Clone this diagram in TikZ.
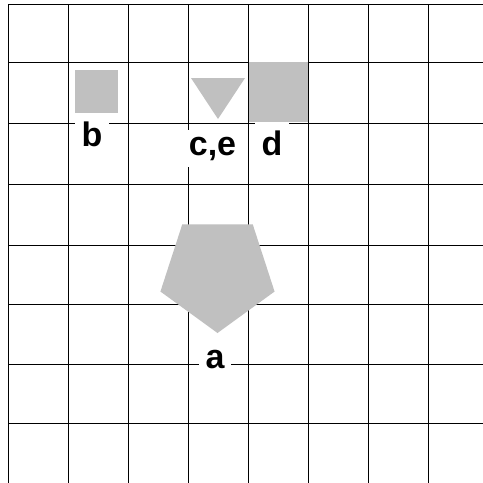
\documentclass[tikz,border=0pt]{standalone}
\usepackage{fontspec}
\setmainfont{Liberation Sans}
\usetikzlibrary{shapes.geometric}
\tikzset{
  gridline/.style={black, line width=0.9pt},
  shapefill/.style={fill=shapegray, draw=none},
  lbl/.style={fill=white, inner sep=7pt, anchor=base, font=\fontsize{34}{38}\selectfont\bfseries}
}
\definecolor{shapegray}{RGB}{192,192,192}
\begin{document}
\begin{tikzpicture}[x=1pt,y=-1pt]
\useasboundingbox (0,0) rectangle (483,483);
\fill[white] (0,0) rectangle (483,483);
% grid
\foreach \i in {0,...,7} {
  \draw[gridline] (8+60*\i,4) -- (8+60*\i,483);
}
\foreach \y in {4,62,123,184,245,304,364,423} {
  \draw[gridline] (8,\y) -- (483,\y);
}
% shapes
\node[shapefill, rectangle, minimum width=43pt, minimum height=43pt, inner sep=0pt] (b) at (96.5,91.5) {};
\node[shapefill, rectangle, minimum width=59pt, minimum height=60pt, inner sep=0pt] (d) at (278.5,92) {};
\node[shapefill, regular polygon, regular polygon sides=5, shape border rotate=180, minimum size=120pt, inner sep=0pt, outer sep=0pt] (a) at (217.5,273) {};
\coordinate (ce1) at (191,78);
\coordinate (ce2) at (245,78);
\coordinate (ce3) at (218,119);
\fill[shapegray] (ce1) -- (ce2) -- (ce3) -- cycle;
% labels
\node[lbl] (lb) at (92,146) {b};
\node[lbl] (lce) at (212.5,155) {c,e};
\node[lbl] (ld) at (272,155) {d};
\node[lbl] (la) at (215,368) {a};
\end{tikzpicture}
\end{document}
